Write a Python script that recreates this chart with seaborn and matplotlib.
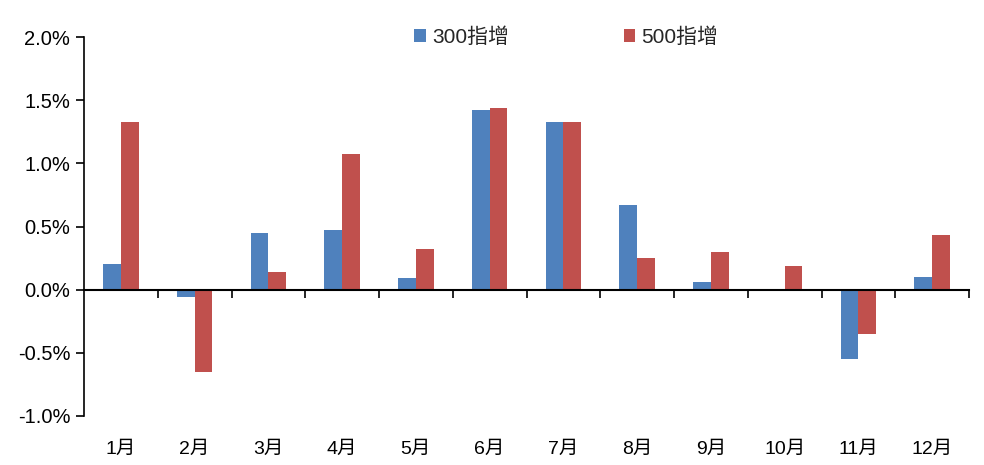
import matplotlib
matplotlib.use('Agg')
import matplotlib.pyplot as plt
import matplotlib.ticker as mticker
import seaborn as sns
import pandas as pd

months = ['1月', '2月', '3月', '4月', '5月', '6月', '7月', '8月', '9月', '10月', '11月', '12月']
series_names = ['300指增', '500指增']
idx300 = [0.20, -0.06, 0.45, 0.47, 0.09, 1.42, 1.33, 0.67, 0.06, 0.00, -0.55, 0.10]
idx500 = [1.33, -0.65, 0.14, 1.07, 0.32, 1.44, 1.33, 0.25, 0.30, 0.19, -0.35, 0.43]
y_ticks = [-1.0, -0.5, 0.0, 0.5, 1.0, 1.5, 2.0]

df = pd.DataFrame({
    'month': months * 2,
    'series': [series_names[0]] * len(months) + [series_names[1]] * len(months),
    'value': idx300 + idx500,
})

sns.set_theme(style="white")
plt.rcParams['font.family'] = ['Liberation Sans', 'Noto Sans CJK SC', 'DejaVu Sans']

fig = plt.figure(figsize=(9.84, 4.65), dpi=100)
ax = fig.add_axes([0.0854, 0.1054, 0.8994, 0.815])

sns.barplot(data=df, x='month', y='value', hue='series', order=months,
            hue_order=series_names, palette=['#4F81BD', '#C0504D'],
            width=0.48, saturation=1, linewidth=0, ax=ax)

ax.set_xlim(-0.5, len(months) - 0.5)
ax.set_ylim(-1.0, 2.0)
ax.set_yticks(y_ticks)
ax.yaxis.set_major_formatter(mticker.FuncFormatter(lambda v, p: f'{v:.1f}%'))
ax.set_xlabel('')
ax.set_ylabel('')

for s in ['top', 'right', 'bottom']:
    ax.spines[s].set_visible(False)
ax.spines['left'].set_color('black')
ax.spines['left'].set_linewidth(1.2)

ax.tick_params(axis='y', left=True, direction='out', length=6, width=1.2,
               labelsize=14.5, colors='black', pad=4)
ax.tick_params(axis='x', bottom=False, labelsize=14, colors='black', pad=12)

# zero line with category boundary ticks
sec = ax.secondary_xaxis(1.0 / 3.0)
sec.set_zorder(5)
sec.set_xticks([i + 0.5 for i in range(len(months))])
sec.set_xticklabels([])
sec.spines['bottom'].set_color('black')
sec.spines['bottom'].set_linewidth(1.5)
sec.tick_params(axis='x', direction='out', length=6, width=1.2, colors='black')

ax.legend(loc='upper center', bbox_to_anchor=(0.545, 1.075), ncol=2, frameon=False,
          fontsize=15, handlelength=0.55, handleheight=0.55, handletextpad=0.3,
          columnspacing=5.5)

plt.savefig('out.png', dpi=100)
plt.close()
